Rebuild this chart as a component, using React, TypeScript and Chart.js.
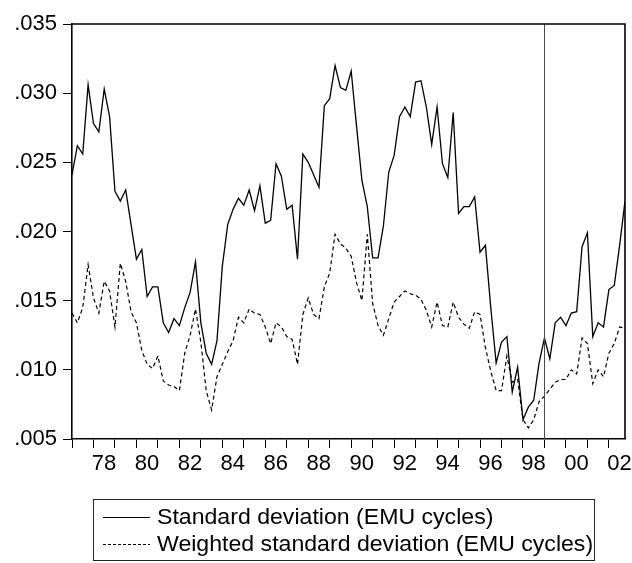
import React, { useEffect, useRef } from 'react';
import { Chart, registerables } from 'chart.js';

Chart.register(...registerables);

// Quarterly observations, 1977Q1 .. 2002Q4
const START_YEAR = 1977;
const END_YEAR = 2002;
const stdDev = [
  0.0241, 0.0262, 0.0256, 0.0306, 0.0278, 0.0272, 0.0303, 0.0283,
  0.0229, 0.0222, 0.0230, 0.0205, 0.0180, 0.0187, 0.0153, 0.0160,
  0.0160, 0.0134, 0.0127, 0.0137, 0.0132, 0.0145, 0.0156, 0.0178,
  0.0134, 0.0112, 0.0104, 0.0121, 0.0175, 0.0205, 0.0216, 0.0224,
  0.0219, 0.0230, 0.0215, 0.0233, 0.0206, 0.0208, 0.0249, 0.0240,
  0.0216, 0.0219, 0.0180, 0.0256, 0.0250, 0.0241, 0.0232, 0.0291,
  0.0296, 0.0320, 0.0304, 0.0302, 0.0316, 0.0276, 0.0237, 0.0218,
  0.0181, 0.0181, 0.0204, 0.0243, 0.0255, 0.0283, 0.0290, 0.0283,
  0.0308, 0.0309, 0.0290, 0.0263, 0.0290, 0.0249, 0.0239, 0.0286,
  0.0213, 0.0218, 0.0218, 0.0225, 0.0185, 0.0190, 0.0145, 0.0105,
  0.0120, 0.0124, 0.0084, 0.0102, 0.0064, 0.0073, 0.0078, 0.0105,
  0.0123, 0.0108, 0.0134, 0.0138, 0.0132, 0.0141, 0.0142, 0.0189,
  0.0199, 0.0124, 0.0134, 0.0131, 0.0158, 0.0161, 0.0190, 0.0222,
];
const weightedStdDev = [
  0.0141, 0.0134, 0.0145, 0.0176, 0.0152, 0.0141, 0.0164, 0.0157,
  0.0131, 0.0177, 0.0164, 0.0142, 0.0134, 0.0114, 0.0104, 0.0101,
  0.0110, 0.0092, 0.0089, 0.0088, 0.0085, 0.0112, 0.0125, 0.0144,
  0.0120, 0.0085, 0.0071, 0.0095, 0.0104, 0.0113, 0.0121, 0.0138,
  0.0134, 0.0144, 0.0141, 0.0140, 0.0131, 0.0119, 0.0134, 0.0131,
  0.0124, 0.0122, 0.0104, 0.0140, 0.0152, 0.0140, 0.0137, 0.0160,
  0.0170, 0.0198, 0.0191, 0.0188, 0.0182, 0.0163, 0.0150, 0.0198,
  0.0148, 0.0132, 0.0125, 0.0137, 0.0149, 0.0153, 0.0157, 0.0155,
  0.0154, 0.0151, 0.0143, 0.0131, 0.0149, 0.0132, 0.0131, 0.0149,
  0.0138, 0.0133, 0.0130, 0.0142, 0.0140, 0.0116, 0.0099, 0.0085,
  0.0085, 0.0110, 0.0091, 0.0093, 0.0064, 0.0058, 0.0064, 0.0077,
  0.0081, 0.0086, 0.0091, 0.0093, 0.0093, 0.0100, 0.0097, 0.0123,
  0.0119, 0.0090, 0.0100, 0.0095, 0.0112, 0.0119, 0.0131, 0.0130,
];
const yTickValues = [0.005, 0.010, 0.015, 0.020, 0.025, 0.030, 0.035];
const EMU_START_YEAR = 1999;
const seriesLabels = [
  'Standard deviation (EMU cycles)',
  'Weighted standard deviation (EMU cycles)',
];

const FONT = '"Liberation Sans", Arial, Helvetica, sans-serif';

export default function App() {
  const canvasRef = useRef<HTMLCanvasElement | null>(null);

  useEffect(() => {
    const canvas = canvasRef.current;
    if (!canvas) return;

    const quarterIndex = (year: number) => (year - START_YEAR) * 4;
    const lastIndex = stdDev.length - 1;

    const frameAndEmuPlugin = {
      id: 'frameAndEmu',
      afterDatasetsDraw(chart: any) {
        const { ctx, chartArea, scales } = chart;
        const x = scales.x.getPixelForValue(quarterIndex(EMU_START_YEAR));
        ctx.save();
        ctx.strokeStyle = '#4a4a4a';
        ctx.lineWidth = 1;
        ctx.beginPath();
        ctx.moveTo(Math.round(x) + 0.5, chartArea.top);
        ctx.lineTo(Math.round(x) + 0.5, chartArea.bottom);
        ctx.stroke();
        // top and right frame
        ctx.strokeStyle = '#000';
        ctx.lineWidth = 1.6;
        ctx.beginPath();
        ctx.moveTo(chartArea.left, chartArea.top);
        ctx.lineTo(chartArea.right, chartArea.top);
        ctx.lineTo(chartArea.right, chartArea.bottom);
        ctx.stroke();
        ctx.restore();
      },
    };

    const legendPlugin = {
      id: 'boxLegend',
      afterDraw(chart: any) {
        const { ctx } = chart;
        ctx.save();
        ctx.strokeStyle = '#222';
        ctx.lineWidth = 1;
        ctx.strokeRect(93.5, 499.5, 501, 61);
        const rows = [517, 544];
        const dashes = [[], [3, 2]];
        ctx.fillStyle = '#000';
        ctx.textBaseline = 'middle';
        ctx.textAlign = 'left';
        seriesLabels.forEach((label, i) => {
          ctx.setLineDash(dashes[i]);
          ctx.strokeStyle = '#000';
          ctx.lineWidth = 1.2;
          ctx.beginPath();
          ctx.moveTo(103, rows[i] + 0.5);
          ctx.lineTo(150, rows[i] + 0.5);
          ctx.stroke();
          ctx.setLineDash([]);
          ctx.save();
          ctx.translate(157, rows[i] + 1);
          ctx.scale(1.05, 1);
          ctx.font = `22px ${FONT}`;
          ctx.fillText(label, 0, 0);
          ctx.restore();
        });
        ctx.restore();
      },
    };

    const chart = new Chart(canvas, {
      type: 'line',
      data: {
        datasets: [
          {
            label: seriesLabels[0],
            data: stdDev.map((v, i) => ({ x: i, y: v })),
            borderColor: '#000',
            borderWidth: 1.3,
            pointRadius: 0,
            tension: 0,
            fill: false,
          },
          {
            label: seriesLabels[1],
            data: weightedStdDev.map((v, i) => ({ x: i, y: v })),
            borderColor: '#000',
            borderWidth: 1.2,
            borderDash: [4, 3],
            pointRadius: 0,
            tension: 0,
            fill: false,
          },
        ],
      },
      options: {
        responsive: false,
        animation: false,
        devicePixelRatio: 1,
        layout: { padding: { left: 0, right: 7, top: 24, bottom: 0 } },
        plugins: {
          legend: { display: false },
          tooltip: { enabled: false },
        },
        scales: {
          x: {
            type: 'linear',
            min: 0,
            max: lastIndex,
            afterBuildTicks: (scale: any) => {
              const t: any[] = [];
              for (let y = START_YEAR; y <= END_YEAR; y++) t.push({ value: quarterIndex(y) });
              scale.ticks = t;
            },
            afterFit: (scale: any) => {
              scale.height = 124;
            },
            ticks: {
              autoSkip: false,
              maxRotation: 0,
              minRotation: 0,
              labelOffset: 10.5,
              padding: 3,
              color: '#000',
              font: { family: FONT, size: 22 },
              callback: (v: any) => {
                const yr = START_YEAR + Number(v) / 4;
                return yr % 2 === 0 ? String(yr).slice(2) : '';
              },
            },
            grid: {
              display: true,
              drawOnChartArea: false,
              drawTicks: true,
              tickLength: 9,
              color: '#000',
              lineWidth: 1,
            },
            border: { display: true, color: '#000', width: 1.6 },
          },
          y: {
            type: 'linear',
            min: 0.005,
            max: 0.035,
            afterBuildTicks: (scale: any) => {
              scale.ticks = yTickValues.map((v) => ({ value: v }));
            },
            afterFit: (scale: any) => {
              scale.width = 72;
            },
            ticks: {
              padding: 6,
              color: '#000',
              font: { family: FONT, size: 22 },
              callback: (v: any) => Number(v).toFixed(3).replace(/^0/, ''),
            },
            grid: {
              display: true,
              drawOnChartArea: false,
              drawTicks: true,
              tickLength: 9,
              color: '#000',
              lineWidth: 1,
            },
            border: { display: true, color: '#000', width: 1.6 },
          },
        },
      },
      plugins: [frameAndEmuPlugin, legendPlugin],
    });

    return () => chart.destroy();
  }, []);

  return (
    <div style={{ position: 'absolute', left: 0, top: 0, width: 632, height: 563, background: '#fff' }}>
      <canvas ref={canvasRef} width={632} height={563} />
    </div>
  );
}
